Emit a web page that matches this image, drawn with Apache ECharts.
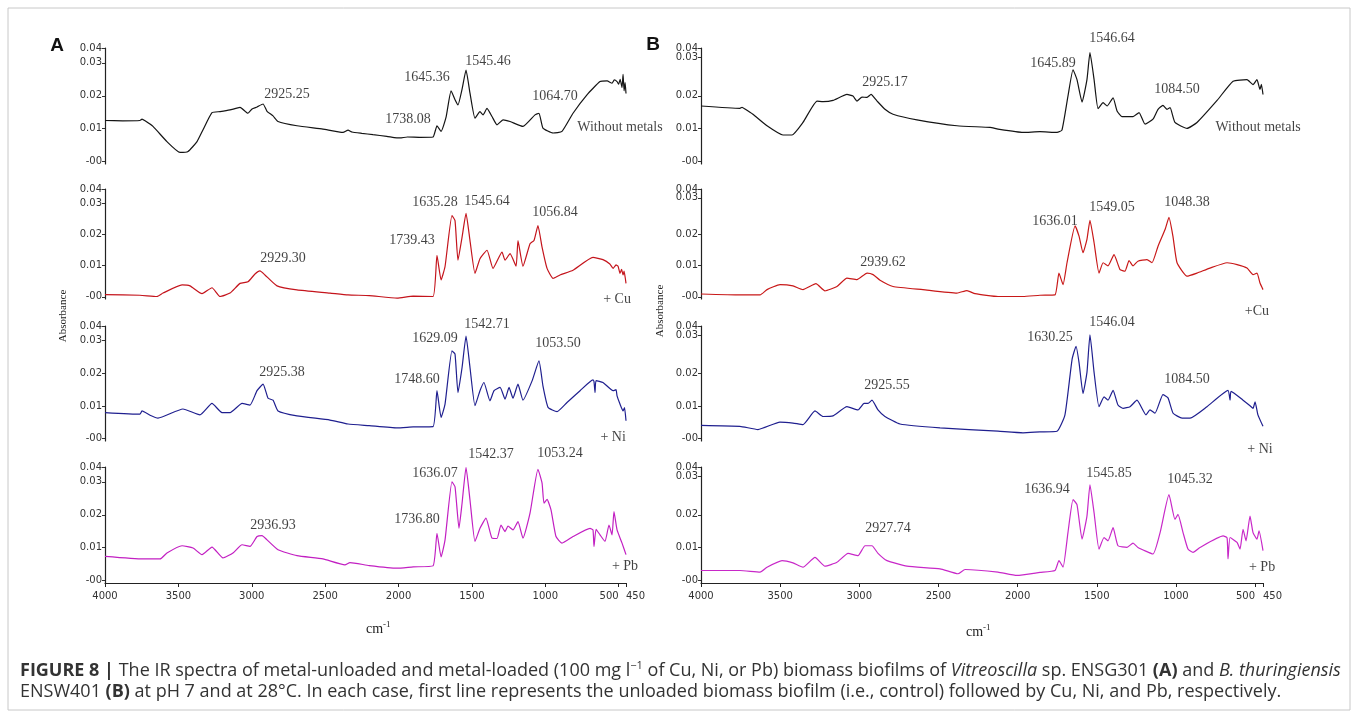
<!DOCTYPE html>
<html><head><meta charset="utf-8">
<script src="https://cdn.jsdelivr.net/npm/echarts@6/dist/echarts.min.js"></script>
<style>html,body{margin:0;padding:0;background:#fff}#c{width:1358px;height:724px}</style>
</head><body><div id="c"></div>
<script>
// ---------- DATA ----------
const X_TICKS = [4000, 3500, 3000, 2500, 2000, 1500, 1000, 500, 450];
const Y_TICK_LABELS = ['-00', '0.01', '0.02', '0.03', '0.04'];
const Y_TICK_VALUES_A = [0, 0.01, 0.02, 0.03, 0.0345];
const Y_TICK_VALUES_B = [0, 0.01, 0.02, 0.0317, 0.0345];
const TRACE_NAMES = ['Without metals', '+ Cu', '+ Ni', '+ Pb'];

// Panel A (Vitreoscilla sp.)  [wavenumber cm-1, absorbance]
const A_NONE = [[4000,0.0125],[3880,0.0124],[3762,0.0125],[3748,0.0129],[3727,0.0124],[3673,0.0107],[3578,0.0061],[3489,0.0028],[3434,0.0031],[3373,0.0061],[3332,0.0097],[3271,0.0149],[3216,0.0152],[3148,0.0157],[3080,0.0165],[3026,0.0147],[2998,0.0160],[2964,0.0166],[2923,0.0175],[2896,0.0153],[2855,0.0139],[2821,0.0122],[2692,0.0109],[2515,0.0099],[2378,0.0089],[2344,0.0096],[2317,0.0090],[2250,0.0086],[2174,0.0082],[2080,0.0077],[2030,0.0073],[1990,0.0072],[1940,0.0075],[1850,0.0074],[1765,0.0075],[1738,0.0109],[1710,0.0092],[1676,0.0135],[1642,0.0215],[1615,0.0188],[1595,0.0172],[1567,0.0220],[1540,0.0278],[1513,0.0208],[1479,0.0132],[1445,0.0152],[1424,0.0142],[1397,0.0162],[1363,0.0137],[1329,0.0112],[1288,0.0127],[1240,0.0122],[1152,0.0107],[1070,0.0142],[1043,0.0147],[1016,0.0102],[947,0.0087],[886,0.0092],[811,0.0147],[716,0.0203],[627,0.0243],[579,0.0245],[545,0.0238],[530,0.0248],[511,0.0243],[500,0.0235],[490,0.0250],[477,0.0225],[470,0.0265],[463,0.0215],[456,0.0240],[450,0.0207]];
const A_CU = [[4000,0.0007],[3762,0.0005],[3646,0.0001],[3605,0.0012],[3475,0.0038],[3421,0.0035],[3339,0.0010],[3271,0.0029],[3216,0.0001],[3148,0.0012],[3080,0.0043],[3026,0.0048],[2978,0.0073],[2944,0.0083],[2910,0.0070],[2828,0.0035],[2692,0.0022],[2467,0.0012],[2344,0.0006],[2200,0.0004],[2010,-0.0004],[1900,0.0002],[1765,0.0001],[1738,0.0133],[1710,0.0054],[1683,0.0097],[1636,0.0260],[1615,0.0244],[1595,0.0117],[1567,0.0191],[1540,0.0267],[1513,0.0180],[1479,0.0075],[1445,0.0122],[1397,0.0149],[1356,0.0091],[1295,0.0143],[1274,0.0117],[1240,0.0138],[1199,0.0098],[1186,0.0180],[1152,0.0098],[1104,0.0170],[1077,0.0180],[1050,0.0228],[1022,0.0159],[988,0.0091],[947,0.0059],[900,0.0070],[811,0.0085],[675,0.0126],[607,0.0119],[560,0.0105],[538,0.0091],[518,0.0102],[504,0.0098],[491,0.0075],[480,0.0088],[470,0.0070],[463,0.0082],[450,0.0043]];
const A_NI = [[4000,0.0080],[3762,0.0075],[3748,0.0085],[3693,0.0072],[3639,0.0063],[3469,0.0091],[3353,0.0073],[3271,0.0108],[3203,0.0080],[3148,0.0080],[3066,0.0108],[3012,0.0103],[2964,0.0147],[2923,0.0167],[2889,0.0124],[2855,0.0118],[2821,0.0085],[2692,0.0070],[2467,0.0057],[2344,0.0045],[2200,0.0040],[2010,0.0033],[1900,0.0036],[1765,0.0037],[1738,0.0147],[1710,0.0065],[1683,0.0106],[1636,0.0269],[1615,0.0259],[1595,0.0141],[1567,0.0218],[1540,0.0314],[1513,0.0218],[1479,0.0101],[1445,0.0147],[1418,0.0172],[1377,0.0116],[1349,0.0147],[1308,0.0157],[1274,0.0121],[1247,0.0157],[1220,0.0124],[1186,0.0167],[1152,0.0118],[1090,0.0177],[1043,0.0238],[1016,0.0162],[981,0.0096],[920,0.0083],[852,0.0111],[763,0.0147],[675,0.0180],[668,0.0175],[661,0.0141],[654,0.0178],[607,0.0172],[538,0.0147],[518,0.0150],[511,0.0131],[491,0.0106],[470,0.0085],[460,0.0095],[450,0.0055]];
const A_PB = [[4000,0.0074],[3741,0.0066],[3625,0.0066],[3578,0.0084],[3475,0.0106],[3400,0.0099],[3339,0.0079],[3271,0.0102],[3196,0.0069],[3128,0.0084],[3066,0.0109],[3012,0.0104],[2964,0.0134],[2930,0.0137],[2896,0.0124],[2821,0.0094],[2692,0.0076],[2515,0.0066],[2365,0.0048],[2331,0.0055],[2200,0.0046],[2010,0.0038],[1900,0.0042],[1765,0.0045],[1738,0.0144],[1710,0.0072],[1683,0.0124],[1636,0.0300],[1615,0.0285],[1588,0.0159],[1567,0.0235],[1540,0.0344],[1513,0.0245],[1479,0.0119],[1445,0.0159],[1404,0.0190],[1363,0.0129],[1329,0.0128],[1302,0.0169],[1274,0.0149],[1254,0.0166],[1220,0.0154],[1186,0.0179],[1152,0.0129],[1104,0.0205],[1050,0.0338],[1022,0.0296],[1009,0.0235],[988,0.0247],[961,0.0215],[927,0.0134],[886,0.0114],[811,0.0134],[695,0.0159],[675,0.0154],[668,0.0104],[654,0.0156],[627,0.0139],[593,0.0119],[566,0.0169],[545,0.0139],[532,0.0210],[511,0.0154],[477,0.0114],[450,0.0079]];

// Panel B (B. thuringiensis)
const B_NONE = [[4000,0.0169],[3754,0.0162],[3741,0.0165],[3722,0.0160],[3672,0.0144],[3583,0.0109],[3482,0.0081],[3425,0.0081],[3356,0.0119],[3267,0.0184],[3229,0.0182],[3166,0.0186],[3078,0.0204],[3040,0.0199],[3015,0.0184],[2983,0.0196],[2951,0.0195],[2926,0.0204],[2888,0.0184],[2838,0.0159],[2787,0.0144],[2636,0.0127],[2383,0.0109],[2174,0.0104],[2124,0.0099],[1966,0.0089],[1859,0.0091],[1751,0.0089],[1720,0.0096],[1682,0.0199],[1650,0.0279],[1625,0.0249],[1593,0.0181],[1562,0.0249],[1543,0.0331],[1517,0.0249],[1492,0.0161],[1460,0.0179],[1435,0.0169],[1397,0.0194],[1372,0.0154],[1341,0.0137],[1271,0.0137],[1233,0.0149],[1195,0.0114],[1145,0.0129],[1113,0.0159],[1082,0.0171],[1056,0.0159],[1037,0.0164],[1006,0.0119],[930,0.0101],[867,0.0119],[740,0.0186],[639,0.0244],[551,0.0249],[513,0.0234],[488,0.0249],[469,0.0219],[460,0.0235],[450,0.0204]];
const B_CU = [[4000,0.0009],[3754,0.0006],[3627,0.0006],[3583,0.0023],[3501,0.0039],[3419,0.0035],[3356,0.0023],[3274,0.0042],[3217,0.0019],[3141,0.0033],[3078,0.0060],[3015,0.0055],[2951,0.0076],[2913,0.0071],[2869,0.0053],[2787,0.0033],[2598,0.0023],[2383,0.0012],[2320,0.0020],[2269,0.0010],[2124,0.0001],[1966,0.0001],[1859,0.0005],[1764,0.0006],[1739,0.0076],[1713,0.0039],[1688,0.0109],[1637,0.0227],[1612,0.0194],[1587,0.0141],[1562,0.0184],[1543,0.0245],[1517,0.0173],[1486,0.0076],[1460,0.0109],[1429,0.0099],[1391,0.0135],[1353,0.0087],[1322,0.0082],[1296,0.0116],[1271,0.0099],[1240,0.0114],[1183,0.0119],[1151,0.0109],[1113,0.0162],[1068,0.0216],[1044,0.0254],[1019,0.0194],[993,0.0109],[930,0.0066],[867,0.0076],[785,0.0092],[677,0.0109],[614,0.0103],[551,0.0092],[513,0.0071],[488,0.0076],[469,0.0044],[450,0.0023]];
const B_NI = [[4000,0.0041],[3754,0.0038],[3640,0.0028],[3501,0.0051],[3419,0.0048],[3356,0.0043],[3280,0.0085],[3229,0.0068],[3166,0.0070],[3078,0.0098],[3008,0.0088],[2970,0.0108],[2945,0.0108],[2920,0.0118],[2882,0.0088],[2838,0.0068],[2743,0.0045],[2490,0.0033],[2124,0.0023],[1966,0.0018],[1859,0.0021],[1751,0.0023],[1701,0.0073],[1656,0.0243],[1631,0.0283],[1612,0.0233],[1587,0.0138],[1562,0.0203],[1543,0.0318],[1517,0.0203],[1486,0.0098],[1454,0.0128],[1429,0.0118],[1397,0.0148],[1366,0.0103],[1334,0.0093],[1290,0.0098],[1246,0.0118],[1189,0.0073],[1164,0.0088],[1132,0.0078],[1082,0.0135],[1050,0.0125],[1018,0.0078],[961,0.0063],[911,0.0063],[804,0.0098],[671,0.0148],[658,0.0118],[652,0.0145],[576,0.0118],[532,0.0101],[513,0.0093],[500,0.0113],[482,0.0073],[450,0.0038]];
const B_PB = [[4000,0.0031],[3754,0.0031],[3627,0.0026],[3583,0.0041],[3488,0.0061],[3419,0.0054],[3356,0.0041],[3280,0.0071],[3217,0.0044],[3141,0.0056],[3071,0.0083],[3008,0.0076],[2964,0.0106],[2920,0.0106],[2882,0.0083],[2825,0.0061],[2699,0.0044],[2490,0.0036],[2377,0.0021],[2332,0.0034],[2124,0.0026],[2004,0.0016],[1859,0.0025],[1764,0.0031],[1739,0.0061],[1713,0.0041],[1682,0.0146],[1650,0.0246],[1625,0.0231],[1593,0.0126],[1562,0.0196],[1543,0.0291],[1517,0.0206],[1486,0.0096],[1454,0.0131],[1429,0.0121],[1397,0.0161],[1366,0.0106],[1309,0.0101],[1271,0.0114],[1240,0.0101],[1145,0.0081],[1100,0.0146],[1044,0.0261],[1006,0.0186],[987,0.0201],[955,0.0146],[924,0.0096],[892,0.0086],[848,0.0101],[702,0.0136],[677,0.0130],[671,0.0066],[658,0.0131],[614,0.0116],[595,0.0096],[576,0.0156],[557,0.0121],[532,0.0196],[513,0.0146],[488,0.0126],[475,0.0151],[450,0.0091]];

// Peak annotations [wavenumber, absorbance, text]
const A_NOTES = [
  [[2760,0.0203,'2925.25'],[1935,0.0130,'1738.08'],[1806,0.0257,'1645.36'],[1390,0.0306,'1545.46'],[934,0.0197,'1064.70'],[491,0.0103,'Without metals']],
  [[2787,0.0123,'2929.30'],[1908,0.0180,'1739.43'],[1751,0.0301,'1635.28'],[1397,0.0307,'1545.64'],[934,0.0269,'1056.84'],[511,-0.0009,'+ Cu']],
  [[2794,0.0202,'2925.38'],[1874,0.0183,'1748.60'],[1751,0.0308,'1629.09'],[1397,0.0351,'1542.71'],[913,0.0293,'1053.50'],[538,0.0003,'+ Ni']],
  [[2855,0.0169,'2936.93'],[1874,0.0185,'1736.80'],[1751,0.0327,'1636.07'],[1370,0.0384,'1542.37'],[900,0.0387,'1053.24'],[457,0.0045,'+ Pb']]
];
const B_NOTES = [
  [[2838,0.0240,'2925.17'],[1776,0.0300,'1645.89'],[1404,0.0375,'1546.64'],[993,0.0219,'1084.50'],[481,0.0105,'Without metals']],
  [[2850,0.0110,'2939.62'],[1764,0.0242,'1636.01'],[1404,0.0287,'1549.05'],[930,0.0303,'1048.38'],[488,-0.0048,'+Cu']],
  [[2825,0.0162,'2925.55'],[1795,0.0309,'1630.25'],[1404,0.0357,'1546.04'],[930,0.0183,'1084.50'],[469,-0.0033,'+ Ni']],
  [[2819,0.0159,'2927.74'],[1814,0.0276,'1636.94'],[1423,0.0327,'1545.85'],[911,0.0309,'1045.32'],[456,0.0042,'+ Pb']]
];

// ---------- BUILD ----------
const chart = echarts.init(document.getElementById('c'), null, {renderer: 'canvas'});
const TOPS = [48, 189, 326, 467];
const BOTS = [164, 299, 441, 583];
const PANELS = [
  {left: 105, width: 521, series: [A_NONE, A_CU, A_NI, A_PB], notes: A_NOTES, yv: Y_TICK_VALUES_A,
   colors: ['#141414', '#c4141c', '#1f1f8f', '#c21fc2']},
  {left: 701, width: 562, series: [B_NONE, B_CU, B_NI, B_PB], notes: B_NOTES, yv: Y_TICK_VALUES_B,
   colors: ['#141414', '#c81818', '#1f1f8f', '#c828c8']}
];
const grid = [], xAxis = [], yAxis = [], series = [];
const extraX = [], extraY = [];
const serif = 'Liberation Serif';
const tickFont = {fontFamily: 'DejaVu Sans', fontSize: 10, color: '#333'};
const nX = X_TICKS.length;
const X_MAIN = X_TICKS.slice(0, nX - 2);
const X_PEN = X_TICKS.slice(nX - 2, nX - 1);
const X_END = X_TICKS.slice(nX - 1);

function labelAxisX(idx, values, align) {
  return {
    gridIndex: idx, type: 'value', inverse: true, min: 450, max: 4000, position: 'bottom', offset: 0,
    axisLine: {show: false, onZero: false}, axisTick: {show: false},
    axisLabel: Object.assign({show: true, customValues: values, margin: 8, align: align, formatter: v => String(v)}, tickFont),
    splitLine: {show: false}
  };
}

PANELS.forEach((p) => {
  const yv = p.yv;
  const yLabel = v => { const i = yv.findIndex(t => Math.abs(t - v) < 1e-6); return i >= 0 ? Y_TICK_LABELS[i] : ''; };
  for (let k = 0; k < 4; k++) {
    const idx = grid.length;
    grid.push({left: p.left, width: p.width, top: TOPS[k], height: BOTS[k] - TOPS[k], containLabel: false});
    const last = k === 3;
    xAxis.push({
      gridIndex: idx, type: 'value', inverse: true, min: 450, max: 4000, position: 'bottom',
      axisLine: {show: last, onZero: false, lineStyle: {color: '#222', width: 1.2}},
      axisTick: {show: last, length: 4, customValues: X_TICKS, lineStyle: {color: '#222'}},
      axisLabel: Object.assign({show: last, customValues: X_MAIN, margin: 8, formatter: v => String(v)}, tickFont),
      splitLine: {show: false}
    });
    if (last) {
      extraX.push(labelAxisX(idx, X_PEN, 'right'));
      extraX.push(labelAxisX(idx, X_END, 'left'));
    }
    yAxis.push({
      gridIndex: idx, type: 'value', min: -0.0007, max: 0.0345, position: 'left',
      axisLine: {show: true, onZero: false, lineStyle: {color: '#222', width: 1.2}},
      axisTick: {show: true, length: 3, customValues: yv, lineStyle: {color: '#333'}},
      axisLabel: Object.assign({show: true, customValues: yv.slice(0, 4), margin: 3, formatter: yLabel}, tickFont),
      splitLine: {show: false}
    });
    extraY.push({
      gridIndex: idx, type: 'value', min: -0.0007, max: 0.0345, position: 'left', offset: 0,
      axisLine: {show: false, onZero: false}, axisTick: {show: false},
      axisLabel: Object.assign({show: true, customValues: yv.slice(4), margin: 3, formatter: yLabel}, tickFont),
      splitLine: {show: false}
    });
    series.push({
      name: TRACE_NAMES[k], type: 'line', xAxisIndex: idx, yAxisIndex: idx, data: p.series[k],
      showSymbol: false, symbol: 'none', silent: true, clip: false, smooth: 0.15,
      lineStyle: {color: p.colors[k], width: 1.2}
    });
    series.push({
      type: 'scatter', xAxisIndex: idx, yAxisIndex: idx, silent: true, clip: false,
      symbolSize: 0, itemStyle: {color: 'rgba(0,0,0,0)'},
      data: p.notes[k].map(n => ({value: [n[0], n[1]], name: n[2]})),
      label: {show: true, position: 'inside', formatter: '{b}', fontFamily: serif, fontSize: 14, color: '#111'}
    });
  }
});

const capBase = {fontFamily: 'Open Sans', fontSize: 18, fill: '#333', lineHeight: 21};
const rich = {
  b: Object.assign({}, capBase, {fontWeight: 'bold'}),
  i: Object.assign({}, capBase, {fontStyle: 'italic'}),
  n: Object.assign({}, capBase),
  sup: {fontFamily: 'Open Sans', fontSize: 11, fill: '#333', lineHeight: 21, verticalAlign: 'top'}
};

const graphic = [
  {type: 'rect', shape: {x: 8, y: 8, width: 1342, height: 702}, style: {fill: 'none', stroke: '#c8c8c8', lineWidth: 1}, silent: true},
  {type: 'text', x: 57, y: 46, style: {text: 'A', font: 'bold 19px Liberation Sans', fill: '#111', align: 'center', verticalAlign: 'middle'}},
  {type: 'text', x: 653, y: 45, style: {text: 'B', font: 'bold 19px Liberation Sans', fill: '#111', align: 'center', verticalAlign: 'middle'}},
  {type: 'text', x: 63, y: 316, rotation: Math.PI / 2, style: {text: 'Absorbance', font: '11px Liberation Serif', fill: '#222', align: 'center', verticalAlign: 'middle'}},
  {type: 'text', x: 660, y: 311, rotation: Math.PI / 2, style: {text: 'Absorbance', font: '11px Liberation Serif', fill: '#222', align: 'center', verticalAlign: 'middle'}},
  {type: 'text', x: 366, y: 620, style: {text: '{c|cm}{s|-1}', rich: {c: {fontFamily: serif, fontSize: 14, fill: '#222', lineHeight: 18}, s: {fontFamily: serif, fontSize: 9, fill: '#222', lineHeight: 18, verticalAlign: 'top'}}}},
  {type: 'text', x: 966, y: 623, style: {text: '{c|cm}{s|-1}', rich: {c: {fontFamily: serif, fontSize: 14, fill: '#222', lineHeight: 18}, s: {fontFamily: serif, fontSize: 9, fill: '#222', lineHeight: 18, verticalAlign: 'top'}}}},
  {type: 'text', x: 20, y: 660, style: {
    text: '{b|FIGURE 8 |}{n| The IR spectra of metal-unloaded and metal-loaded (100 mg l}{sup|\u22121}{n| of Cu, Ni, or Pb) biomass biofilms of }{i|Vitreoscilla}{n| sp. ENSG301 }{b|(A)}{n| and }{i|B. thuringiensis}\n{n|ENSW401 }{b|(B)}{n| at pH 7 and at 28\u00B0C. In each case, first line represents the unloaded biomass biofilm (i.e., control) followed by Cu, Ni, and Pb, respectively.}',
    rich: rich}}
];

chart.setOption({
  animation: false,
  backgroundColor: '#ffffff',
  grid,
  xAxis: xAxis.concat(extraX),
  yAxis: yAxis.concat(extraY),
  series, graphic
});
</script>
</body></html>
